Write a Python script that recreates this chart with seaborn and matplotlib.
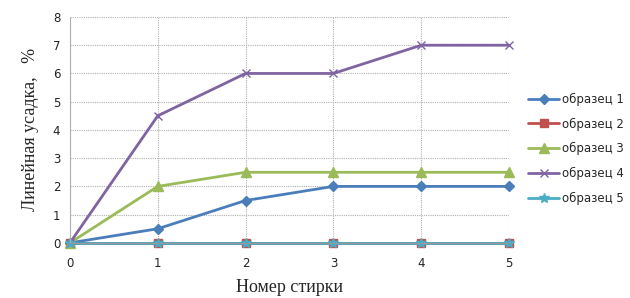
import matplotlib
matplotlib.use("Agg")
import matplotlib.pyplot as plt
import seaborn as sns
import pandas as pd

x = [0, 1, 2, 3, 4, 5]
s1 = [0, 0.5, 1.5, 2, 2, 2]
s2 = [0, 0, 0, 0, 0, 0]
s3 = [0, 2, 2.5, 2.5, 2.5, 2.5]
s4 = [0, 4.5, 6, 6, 7, 7]
s5 = [0, 0, 0, 0, 0, 0]
names = ["образец 1", "образец 2", "образец 3", "образец 4", "образец 5"]
series = [s1, s2, s3, s4, s5]
colors = ["#4A7EBB", "#C0504D", "#9BBB59", "#8064A2", "#4BACC6"]
markers = ["D", "s", "^", "x", "*"]
msizes = [5, 6, 7, 6, 7]

sns.set_style("white")
plt.rcParams['font.family'] = ['DejaVu Sans']

fig = plt.figure(figsize=(6.3, 2.98), dpi=100)
ax = fig.add_axes([0.111, 0.185, 0.697, 0.758])

for name, ys, c, m, ms in zip(names, series, colors, markers, msizes):
    df = pd.DataFrame({"x": x, "y": ys})
    sns.lineplot(data=df, x="x", y="y", ax=ax, color=c, marker=m, markersize=ms,
                 linewidth=2, label=name, markeredgecolor=c, markeredgewidth=1.0)

ax.set_xlim(0, 5)
ax.set_ylim(0, 8)
ax.set_xticks(x)
ax.set_yticks(range(0, 9))
ax.grid(True, color="#b0b0b0", linestyle=(0, (1, 1)), linewidth=0.8)
ax.set_axisbelow(True)
for side in ["top", "right"]:
    ax.spines[side].set_visible(False)
ax.spines["left"].set_color("#b0b0b0")
ax.spines["left"].set_linestyle((0, (1, 1)))
ax.spines["bottom"].set_color("#999999")
ax.tick_params(axis="both", length=0, labelsize=8.5, colors="#222222")
ax.tick_params(axis="x", pad=10)
ax.tick_params(axis="y", pad=7)
for c in ax.collections + ax.lines:
    c.set_clip_on(False)

ax.set_xlabel("Номер стирки", family="Liberation Serif", fontsize=13, labelpad=7)
ax.set_ylabel("Линейная усадка,   %", family="Liberation Serif", fontsize=13, labelpad=10)

leg = ax.legend(loc="center left", bbox_to_anchor=(1.02, 0.416), frameon=False,
                fontsize=8.5, handlelength=2.6, labelspacing=1.0, handletextpad=0.2)

fig.savefig("out.png", dpi=100)
